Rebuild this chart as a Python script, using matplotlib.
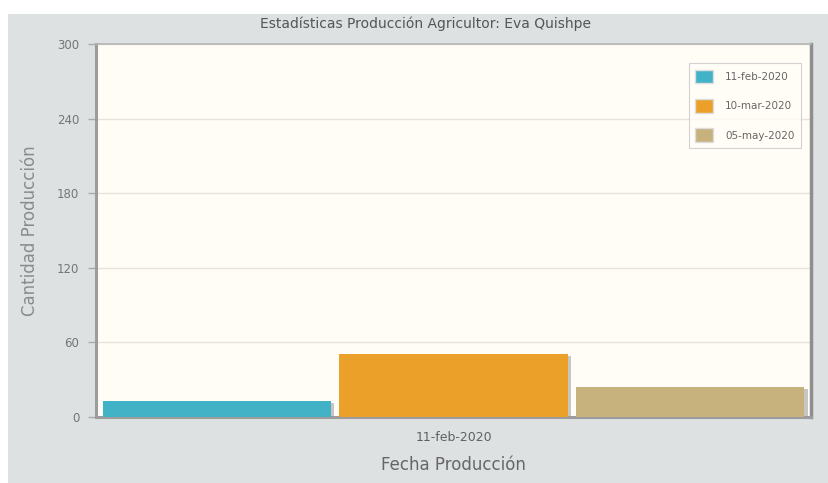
import matplotlib
matplotlib.use("Agg")
import matplotlib.pyplot as plt
import matplotlib.patheffects as pe
from matplotlib.patches import Rectangle

# ── data ──────────────────────────────────────────────────────────────────────
category = "11-feb-2020"
series_labels = ["11-feb-2020", "10-mar-2020", "05-may-2020"]
series_values = [13, 51, 24]
series_colors = ["#42b3c6", "#eba02a", "#c7b17c"]
yticks = [0, 60, 120, 180, 240, 300]

# ── figure ────────────────────────────────────────────────────────────────────
fig = plt.figure(figsize=(8.29, 4.83), dpi=100, facecolor="#dde1e2")
# white strip at top/left edge of the screenshot
fig.patches.append(Rectangle((0, 1 - 14 / 483), 1, 14 / 483, transform=fig.transFigure,
                             facecolor="white", edgecolor="none", zorder=0))
fig.patches.append(Rectangle((0, 0), 8 / 829, 1, transform=fig.transFigure,
                             facecolor="white", edgecolor="none", zorder=0))

ax = fig.add_axes([96 / 829, 1 - 417 / 483, (811 - 96) / 829, (417 - 44) / 483])
ax.set_facecolor("#fffdf6")

shadow = [pe.SimplePatchShadow(offset=(2.5, -1.5), shadow_rgbFace="#9a9a9a", alpha=0.55),
          pe.Normal()]
offsets = [-1, 0, 1]
for off, v, c, lab in zip(offsets, series_values, series_colors, series_labels):
    b = ax.bar(off, v, width=0.965, color=c, label=lab, zorder=3)
    for p in b:
        p.set_path_effects(shadow)

ax.set_xlim(-1.51, 1.51)
ax.set_ylim(0, 300)
ax.set_yticks(yticks)
ax.set_xticks([0])
ax.set_xticklabels([category])
ax.grid(axis="y", color="#e6e3da", linewidth=1.0, zorder=0)
ax.set_axisbelow(True)

for side in ["top", "right"]:
    ax.spines[side].set_color("#b5b5b5")
    ax.spines[side].set_linewidth(1.2)
for side in ["left", "bottom"]:
    ax.spines[side].set_color("#9c9c9c")
    ax.spines[side].set_linewidth(2.2)
ax.spines["right"].set_color("#8e8e8e")
ax.spines["right"].set_linewidth(2.5)

ax.tick_params(axis="y", length=6, width=1, color="#aaaaaa", labelsize=8.5,
               labelcolor="#757575", pad=6)
ax.tick_params(axis="x", length=0, labelsize=9, labelcolor="#606060", pad=10)

ax.set_ylabel("Cantidad Producción", fontsize=12, color="#8a8a8a", labelpad=13)
ax.set_xlabel("Fecha Producción", fontsize=12, color="#666666", labelpad=9)
fig.text(0.513, 1 - 24 / 483, "Estadísticas Producción Agricultor: Eva Quishpe",
         ha="center", va="center", fontsize=10, color="#555555")

leg = ax.legend(loc="upper right", bbox_to_anchor=(0.993, 0.962), fontsize=7.5,
                frameon=True, fancybox=False, handlelength=1.65, handleheight=1.65,
                labelspacing=1.5, borderpad=0.6, handletextpad=1.2,
                labelcolor="#666666")
leg.get_frame().set_edgecolor("#c8c8c8")
leg.get_frame().set_facecolor("#fffdf6")
leg.get_frame().set_linewidth(0.8)
for h in leg.legend_handles:
    h.set_path_effects([])
    h.set_edgecolor("#dddddd")
    h.set_linewidth(1.0)

fig.savefig("out.png", dpi=100, facecolor=fig.get_facecolor())
